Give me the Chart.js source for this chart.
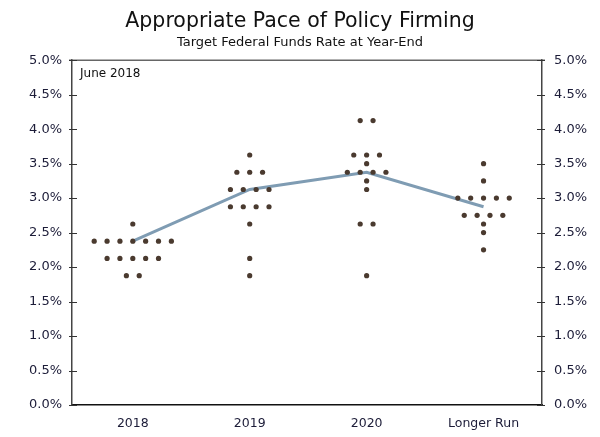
<!DOCTYPE html>
<html>
<head>
<meta charset="utf-8">
<script src="https://cdn.jsdelivr.net/npm/chart.js@4"></script>
<style>
  html, body { margin: 0; padding: 0; background: #fff; }
  #wrap { width: 600px; height: 437px; }
</style>
</head>
<body>
<div id="wrap"><canvas id="chart"></canvas></div>
<script>
// projections, one entry per participant
const categories = ['2018', '2019', '2020', 'Longer Run'];
const proj_2018 = [2.625, 2.375, 2.375, 2.375, 2.375, 2.375, 2.375, 2.375,
    2.125, 2.125, 2.125, 2.125, 2.125, 1.875, 1.875];
const proj_2019 = [3.625, 3.375, 3.375, 3.375, 3.125, 3.125, 3.125, 3.125,
    2.875, 2.875, 2.875, 2.875, 2.625, 2.125, 1.875];
const proj_2020 = [4.125, 4.125, 3.625, 3.625, 3.625, 3.5, 3.375, 3.375, 3.375, 3.375,
    3.25, 3.125, 2.625, 2.625, 1.875];
const proj_longer_run = [3.5, 3.25, 3.0, 3.0, 3.0, 3.0, 3.0, 2.75, 2.75, 2.75, 2.75,
    2.625, 2.5, 2.25];
const medians = [2.375, 3.125, 3.375, 2.875];
const y_ticks = [0, 0.5, 1, 1.5, 2, 2.5, 3, 3.5, 4, 4.5, 5];

const dot_spacing = 0.11;
const text_color = '#1c1c38';
const font_family = '"DejaVu Sans", Verdana, sans-serif';

function spread_dots(values, center) {
    const counts = {};
    for (let v of values) counts[v] = (counts[v] || 0) + 1;
    const pts = [];
    for (let v in counts) {
        const n = counts[v];
        for (let j = 0; j < n; ++j) {
            pts.push({ x: center + (j - (n - 1) / 2) * dot_spacing, y: Number(v) });
        }
    }
    return pts;
}

const dots = [proj_2018, proj_2019, proj_2020, proj_longer_run]
    .map((vals, i) => spread_dots(vals, i)).flat();

const frame_plugin = {
    id: 'frame',
    afterDraw(chart) {
        const { ctx, chartArea: a } = chart;
        ctx.save();
        // top border
        ctx.strokeStyle = '#666';
        ctx.lineWidth = 1.5;
        ctx.beginPath();
        ctx.moveTo(a.left - 3, a.top);
        ctx.lineTo(a.right + 3, a.top);
        ctx.stroke();
        // tick marks crossing both y axes
        ctx.strokeStyle = '#333';
        ctx.lineWidth = 1;
        const ys = chart.scales.y;
        for (let t of y_ticks) {
            const py = Math.round(ys.getPixelForValue(t)) + 0.5;
            ctx.beginPath();
            ctx.moveTo(a.left - 3, py); ctx.lineTo(a.left + 5, py);
            ctx.moveTo(a.right - 5, py); ctx.lineTo(a.right + 3, py);
            ctx.stroke();
        }
        ctx.fillStyle = '#111';
        ctx.font = '12px ' + font_family;
        ctx.textBaseline = 'middle';
        ctx.fillText('June 2018', a.left + 8, a.top + 14);
        ctx.restore();
    }
};

const y_common = {
    type: 'linear',
    min: 0,
    max: 5,
    afterBuildTicks: s => { s.ticks = y_ticks.map(v => ({ value: v })); },
    grid: { display: false, drawTicks: false },
    ticks: {
        color: text_color,
        font: { family: font_family, size: 13 },
        callback: v => v.toFixed(1) + '%',
    },
};

new Chart(document.getElementById('chart'), {
    data: {
        datasets: [
            {
                type: 'scatter',
                data: dots,
                pointRadius: 2.6,
                pointHoverRadius: 2.6,
                pointBackgroundColor: '#4a3a2f',
                pointBorderWidth: 0,
                order: 0,
            },
            {
                type: 'line',
                data: medians.map((m, i) => ({ x: i, y: m })),
                borderColor: '#7f9cb3',
                borderWidth: 3,
                pointRadius: 0,
                order: 1,
            },
        ]
    },
    options: {
        responsive: true,
        maintainAspectRatio: false,
        animation: false,
        layout: { padding: 0 },
        plugins: {
            legend: { display: false },
            tooltip: { enabled: false },
            title: {
                display: true,
                text: 'Appropriate Pace of Policy Firming',
                color: '#111',
                font: { family: font_family, size: 20.5, weight: 'normal' },
                padding: { top: 9, bottom: 0 },
            },
            subtitle: {
                display: true,
                text: 'Target Federal Funds Rate at Year-End',
                color: '#111',
                font: { family: font_family, size: 13, weight: 'normal' },
                padding: { top: 1, bottom: 10 },
            },
        },
        scales: {
            x: {
                type: 'linear',
                min: -0.52,
                max: 3.5,
                afterBuildTicks: s => { s.ticks = categories.map((c, i) => ({ value: i })); },
                afterFit: s => { s.height = 32; },
                grid: { display: false, drawTicks: false },
                border: { color: '#111', width: 1.5 },
                ticks: {
                    color: text_color,
                    padding: 11,
                    font: { family: font_family, size: 12.5 },
                    callback: v => categories[v],
                },
            },
            y: Object.assign({}, y_common, {
                position: 'left',
                afterFit: s => { s.width = 72; },
                border: { color: '#444', width: 1.5 },
                ticks: Object.assign({}, y_common.ticks, { padding: 10 }),
            }),
            y2: Object.assign({}, y_common, {
                position: 'right',
                afterFit: s => { s.width = 58; },
                border: { color: '#444', width: 1.5 },
                ticks: Object.assign({}, y_common.ticks, { padding: 12 }),
            }),
        }
    },
    plugins: [frame_plugin]
});
</script>
</body>
</html>
